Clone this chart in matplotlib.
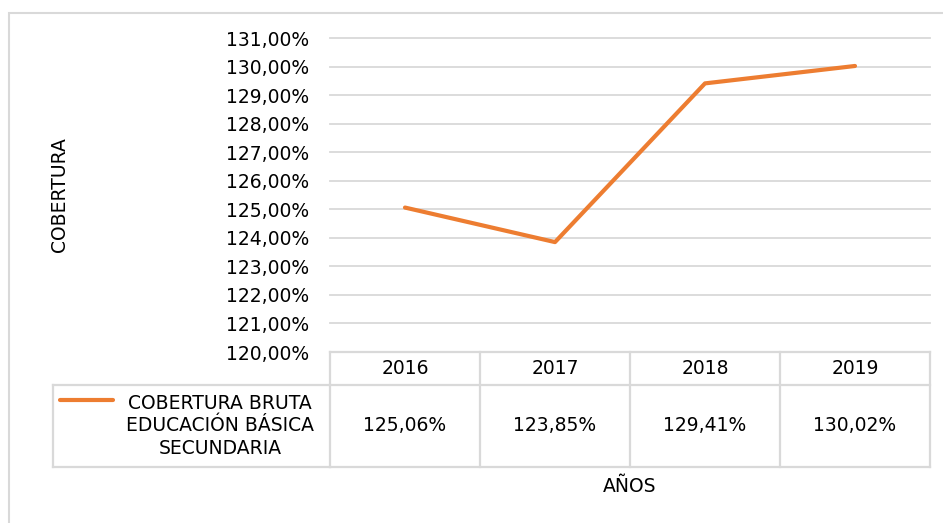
import matplotlib.pyplot as plt
from matplotlib.patches import Rectangle
import matplotlib.transforms as mtrans

plt.rcParams['font.family'] = ['DejaVu Sans']

years = ['2016', '2017', '2018', '2019']
cobertura = [125.06, 123.85, 129.41, 130.02]
serie = 'COBERTURA BRUTA\nEDUCACIÓN BÁSICA\nSECUNDARIA'
yticks = list(range(120, 132))

W, H = 943, 523
fig = plt.figure(figsize=(W / 100, H / 100), dpi=100)
grid = '#d9d9d9'
orange = '#ED7D31'
ft = 13.5

# outer chart border
fig.patches.append(Rectangle((9 / W, -0.1), 1.2, 1 - 13 / H + 0.1, transform=fig.transFigure,
                             fill=False, edgecolor=grid, lw=1.5))

ax = fig.add_axes([330 / W, 1 - 352 / H, 600 / W, 314 / H])
x = list(range(len(years)))
ax.plot(x, cobertura, color=orange, lw=3, solid_capstyle='round', zorder=3)
ax.set_xlim(-0.5, len(years) - 0.5)
ax.set_ylim(120, 131)
ax.set_yticks(yticks)
ax.set_yticklabels([f'{v},00%' for v in yticks], fontsize=ft)
ax.set_xticks([])
ax.tick_params(axis='y', length=0, pad=15)
ax.grid(axis='y', color=grid, lw=1.3, clip_on=False)
ax.set_axisbelow(True)
for s in ax.spines.values():
    s.set_visible(False)

# data table below the axes
tr = mtrans.blended_transform_factory(ax.transData, ax.transAxes)
y_head = -0.105
y_bot = -0.366
lkw = dict(color=grid, lw=1.6, clip_on=False)
ax.plot([-0.5, 3.5], [0, 0], transform=tr, **lkw)
ax.plot([-0.5, 3.5], [y_head, y_head], transform=tr, **lkw)
ax.plot([-0.5, 3.5], [y_bot, y_bot], transform=tr, **lkw)
lx = -0.462
ax.plot([lx, 0], [y_head, y_head], transform=ax.transAxes, **lkw)
ax.plot([lx, 0], [y_bot, y_bot], transform=ax.transAxes, **lkw)
ax.plot([lx, lx], [y_head, y_bot], transform=ax.transAxes, **lkw)
for i in range(len(years) + 1):
    ax.plot([i - 0.5, i - 0.5], [0, y_bot], transform=tr, **lkw)
for i, (yr, v) in enumerate(zip(years, cobertura)):
    ax.text(i, y_head / 2, yr, transform=tr, ha='center', va='center', fontsize=ft)
    ax.text(i, (y_head + y_bot) / 2, f'{v:.2f}%'.replace('.', ','), transform=tr,
            ha='center', va='center', fontsize=ft)

# legend key inside the table
ax.plot([-0.45, -0.362], [-0.153, -0.153], transform=ax.transAxes, color=orange, lw=3,
        solid_capstyle='round', clip_on=False)
ax.text(-0.183, (y_head + y_bot) / 2, serie, transform=ax.transAxes, ha='center',
        va='center', fontsize=ft, linespacing=1.25)

fig.text(60 / W, 1 - 195 / H, 'COBERTURA', rotation=90, ha='center', va='center', fontsize=ft)
fig.text(630 / W, 1 - 487 / H, 'AÑOS', ha='center', va='center', fontsize=ft)

fig.savefig('out.png', dpi=100)
